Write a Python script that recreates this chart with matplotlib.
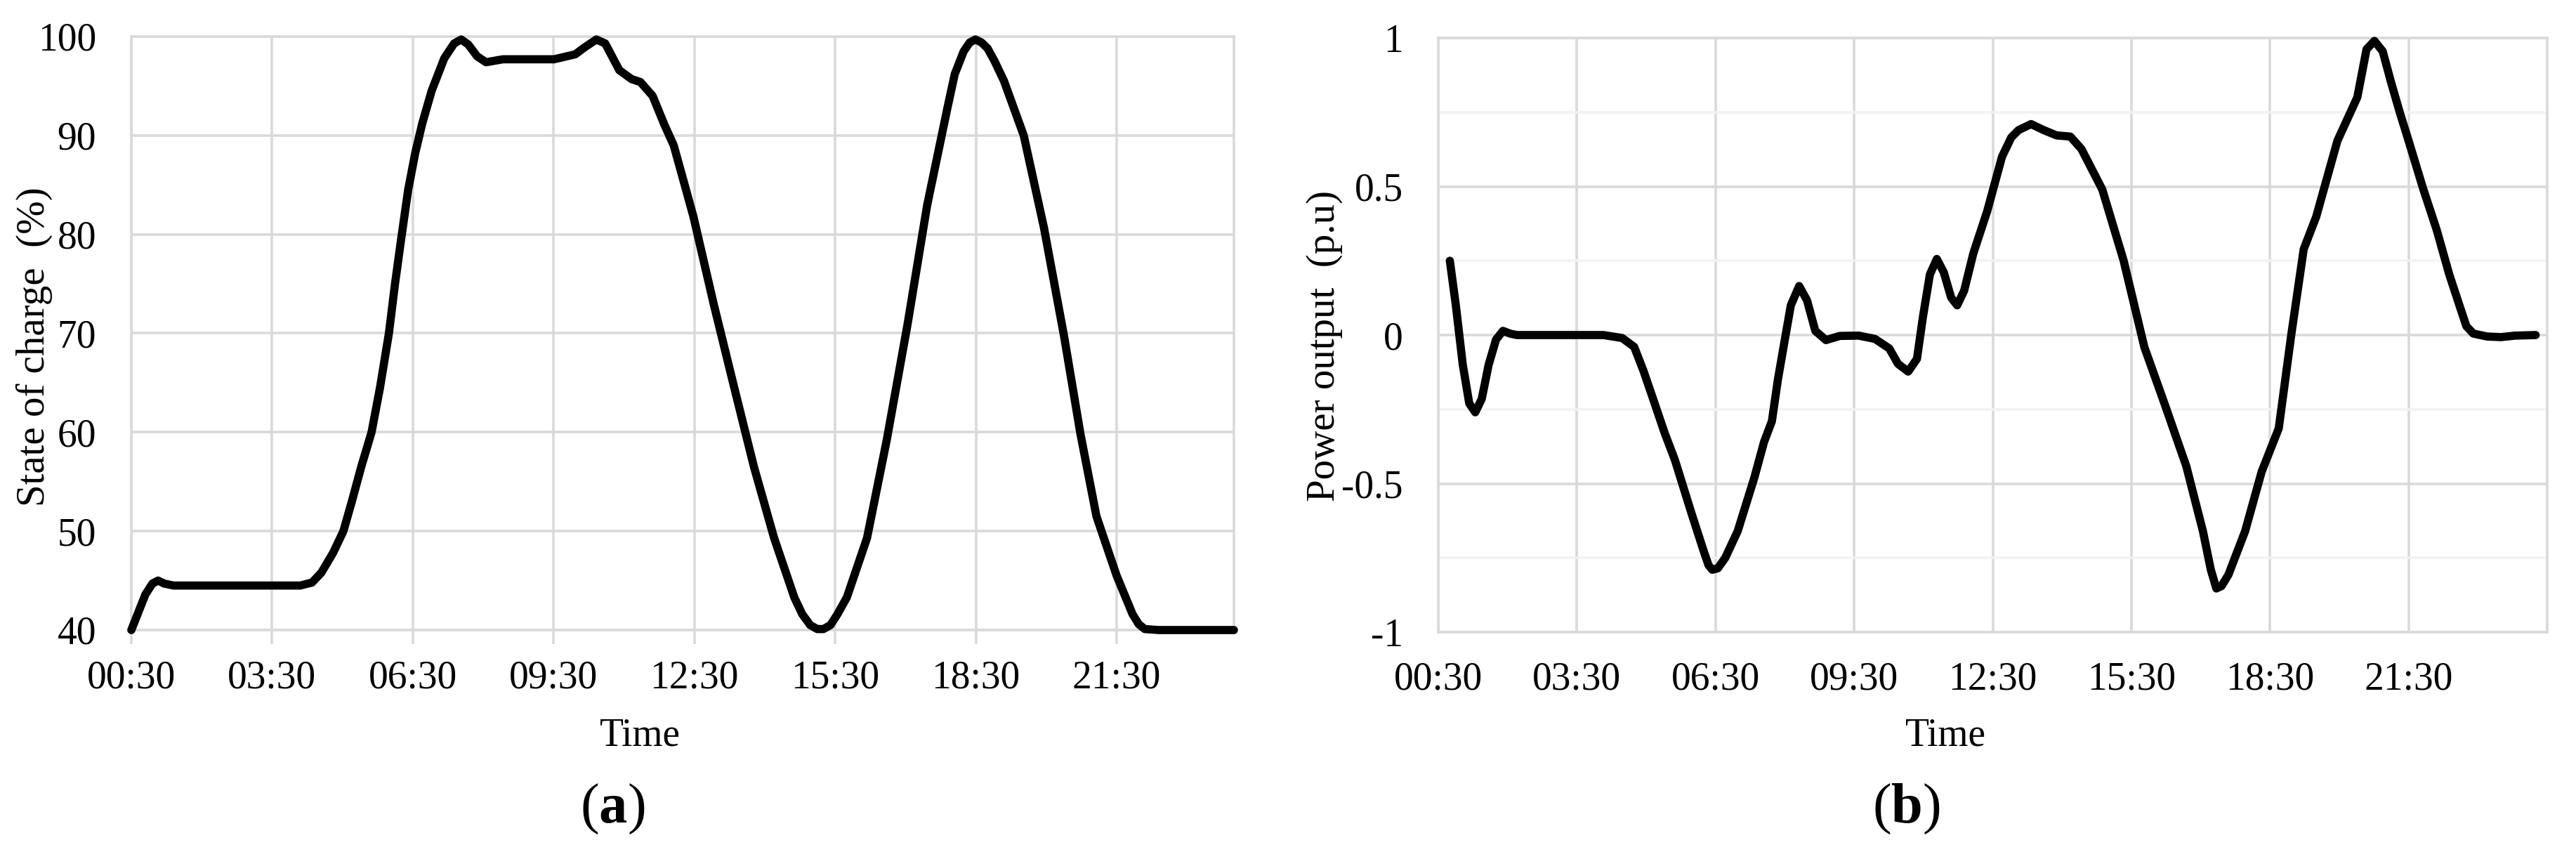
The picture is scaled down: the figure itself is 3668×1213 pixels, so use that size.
import matplotlib
matplotlib.use("Agg")
import matplotlib.pyplot as plt

plt.rcParams['font.family'] = ['Liberation Serif', 'DejaVu Serif']
plt.rcParams['mathtext.fontset'] = 'custom'
plt.rcParams['mathtext.rm'] = 'Liberation Serif'
plt.rcParams['mathtext.bf'] = 'Liberation Serif:bold'

# ---------------- data ----------------
# (a) State of charge (%) vs time (hours)
soc_hours = [0.5, 0.65, 0.8, 0.95, 1.07, 1.2, 1.4, 2.5, 3.5, 4.1, 4.35, 4.55, 4.8,
             5.02, 5.2, 5.4, 5.62, 5.8, 5.99, 6.12, 6.25, 6.4, 6.55, 6.7, 6.9,
             7.17, 7.38, 7.53, 7.68, 7.87, 8.06, 8.42, 9.17, 9.51, 9.96, 10.16,
             10.41, 10.6, 10.9, 11.16, 11.35, 11.61, 11.86, 12.06, 12.48, 12.91,
             13.34, 13.77, 14.2, 14.63, 14.8, 14.97, 15.12, 15.25, 15.4, 15.55,
             15.75, 16.18, 16.6, 17.04, 17.46, 17.89, 18.05, 18.24, 18.37, 18.49,
             18.62, 18.75, 18.9, 19.1, 19.52, 19.95, 20.38, 20.73, 21.07, 21.5,
             21.84, 21.97, 22.1, 22.4, 24.0]
soc_values = [40.0, 41.8, 43.6, 44.7, 45.0, 44.7, 44.5, 44.5, 44.5, 44.5, 44.8,
              45.8, 47.8, 50.0, 53.0, 56.5, 60.0, 64.5, 70.0, 75.0, 79.5, 84.5,
              88.2, 91.2, 94.5, 97.8, 99.3, 99.7, 99.2, 98.0, 97.4, 97.7, 97.7,
              97.7, 98.2, 98.9, 99.7, 99.3, 96.6, 95.7, 95.4, 94.0, 91.1, 89.0,
              81.8, 73.0, 64.7, 56.5, 49.3, 43.3, 41.6, 40.5, 40.1, 40.1, 40.5,
              41.6, 43.3, 49.3, 59.2, 70.8, 82.9, 92.7, 96.2, 98.5, 99.4, 99.7,
              99.4, 98.8, 97.5, 95.5, 90.0, 80.7, 69.7, 59.8, 51.5, 45.5, 41.6,
              40.6, 40.1, 40.0, 40.0]

# (b) Power output (p.u) vs time (hours)
pow_hours = [0.75, 0.88, 1.03, 1.17, 1.3, 1.44, 1.59, 1.75, 1.9, 2.05, 2.2, 3.0,
             4.07, 4.48, 4.74, 4.94, 5.16, 5.4, 5.62, 5.98, 6.25, 6.35, 6.43,
             6.55, 6.71, 6.98, 7.34, 7.55, 7.72, 7.85, 7.95, 8.13, 8.31, 8.48,
             8.66, 8.89, 9.19, 9.6, 9.95, 10.26, 10.45, 10.67, 10.86, 10.99,
             11.14, 11.29, 11.44, 11.6, 11.73, 11.88, 12.08, 12.38, 12.7, 12.9,
             13.06, 13.33, 13.6, 13.88, 14.18, 14.42, 14.87, 15.33, 15.78, 16.24,
             16.69, 17.05, 17.22, 17.34, 17.45, 17.6, 17.96, 18.32, 18.69, 18.96,
             19.23, 19.5, 19.96, 20.39, 20.59, 20.76, 20.94, 21.12, 21.31, 21.5,
             21.81, 22.11, 22.38, 22.6, 22.75, 22.9, 23.2, 23.5, 23.8, 24.25]
pow_values = [0.25, 0.10, -0.10, -0.23, -0.26, -0.215, -0.10, -0.015, 0.014,
              0.005, 0.0, 0.0, 0.0, -0.01, -0.04, -0.12, -0.22, -0.33, -0.42,
              -0.60, -0.73, -0.775, -0.79, -0.785, -0.75, -0.66, -0.48, -0.36,
              -0.29, -0.15, -0.06, 0.10, 0.165, 0.117, 0.014, -0.017, -0.003,
              -0.002, -0.013, -0.045, -0.097, -0.123, -0.08, 0.062, 0.204, 0.256,
              0.211, 0.126, 0.10, 0.149, 0.275, 0.417, 0.60, 0.665, 0.69, 0.71,
              0.69, 0.672, 0.668, 0.626, 0.49, 0.252, -0.04, -0.241, -0.442,
              -0.661, -0.79, -0.853, -0.845, -0.807, -0.661, -0.46, -0.314, 0.0,
              0.289, 0.398, 0.654, 0.80, 0.962, 0.99, 0.955, 0.851, 0.749, 0.654,
              0.495, 0.353, 0.204, 0.10, 0.03, 0.005, -0.005, -0.007, -0.002, 0.0]

x_ticks = [0.5, 3.5, 6.5, 9.5, 12.5, 15.5, 18.5, 21.5]
x_ticklabels = ["00:30", "03:30", "06:30", "09:30", "12:30", "15:30", "18:30", "21:30"]
soc_ticks = [40, 50, 60, 70, 80, 90, 100]
soc_ticklabels = ["40", "50", "60", "70", "80", "90", "100"]
pow_ticks = [-1, -0.5, 0, 0.5, 1]
pow_ticklabels = ["-1", "-0.5", "0", "0.5", "1"]
pow_minor = [-0.75, -0.25, 0.25, 0.75]

# ---------------- figure ----------------
W, H, DPI = 3668, 1213, 200
fig = plt.figure(figsize=(W / DPI, H / DPI), dpi=DPI)
fig.patch.set_facecolor("white")

GRID = "#d9d9d9"
GRID_MINOR = "#f2f2f2"
GLW = 1.3
TICK_FS = 20
LINE_W = 4.2

def px_box(x0, x1, ytop, ybot):
    return [x0 / W, 1 - ybot / H, (x1 - x0) / W, (ybot - ytop) / H]

axA = fig.add_axes(px_box(187, 1757, 52, 897))
axB = fig.add_axes(px_box(2048, 3627, 54, 900))

for ax in (axA, axB):
    for s in ax.spines.values():
        s.set_color(GRID)
        s.set_linewidth(GLW)
    ax.grid(True, which="major", color=GRID, linewidth=GLW)
    ax.set_axisbelow(True)
    ax.set_xticks(x_ticks)
    ax.set_xticklabels(x_ticklabels, fontsize=TICK_FS)
    ax.tick_params(axis="y", length=0, pad=18, labelsize=TICK_FS)

# (a)
axA.plot(soc_hours, soc_values, color="black", lw=LINE_W,
         solid_joinstyle="round", solid_capstyle="round", clip_on=False, zorder=3)
axA.set_xlim(0.5, 24.0)
axA.set_ylim(40, 100)
axA.set_yticks(soc_ticks)
axA.set_yticklabels(soc_ticklabels)
axA.tick_params(axis="x", length=7.2, width=GLW, color=GRID, pad=8)

# (b)
axB.plot(pow_hours, pow_values, color="black", lw=LINE_W,
         solid_joinstyle="round", solid_capstyle="round", clip_on=False, zorder=3)
axB.set_xlim(0.5, 24.5)
axB.set_ylim(-1, 1)
axB.set_yticks(pow_ticks)
axB.set_yticklabels(pow_ticklabels)
axB.set_yticks(pow_minor, minor=True)
axB.tick_params(axis="y", which="minor", length=0)
axB.grid(True, which="minor", axis="y", color=GRID_MINOR, linewidth=GLW)
axB.tick_params(axis="x", length=0, pad=15)

# labels
def ft(x, y, s, **kw):
    fig.text(x / W, 1 - y / H, s, ha="center", va="center", **kw)

ft(49, 494, "State of charge  (%)", rotation=90, fontsize=20.5)
ft(1886, 492, "Power output  (p.u)", rotation=90, fontsize=20.5)
ft(911, 1048, "Time", fontsize=20)
ft(2770, 1048, "Time", fontsize=20)
ft(872, 1152, r"($\mathbf{a}$)", fontsize=29)
ft(2714, 1152, r"($\mathbf{b}$)", fontsize=29)

fig.savefig("out.png", dpi=DPI, facecolor="white")
